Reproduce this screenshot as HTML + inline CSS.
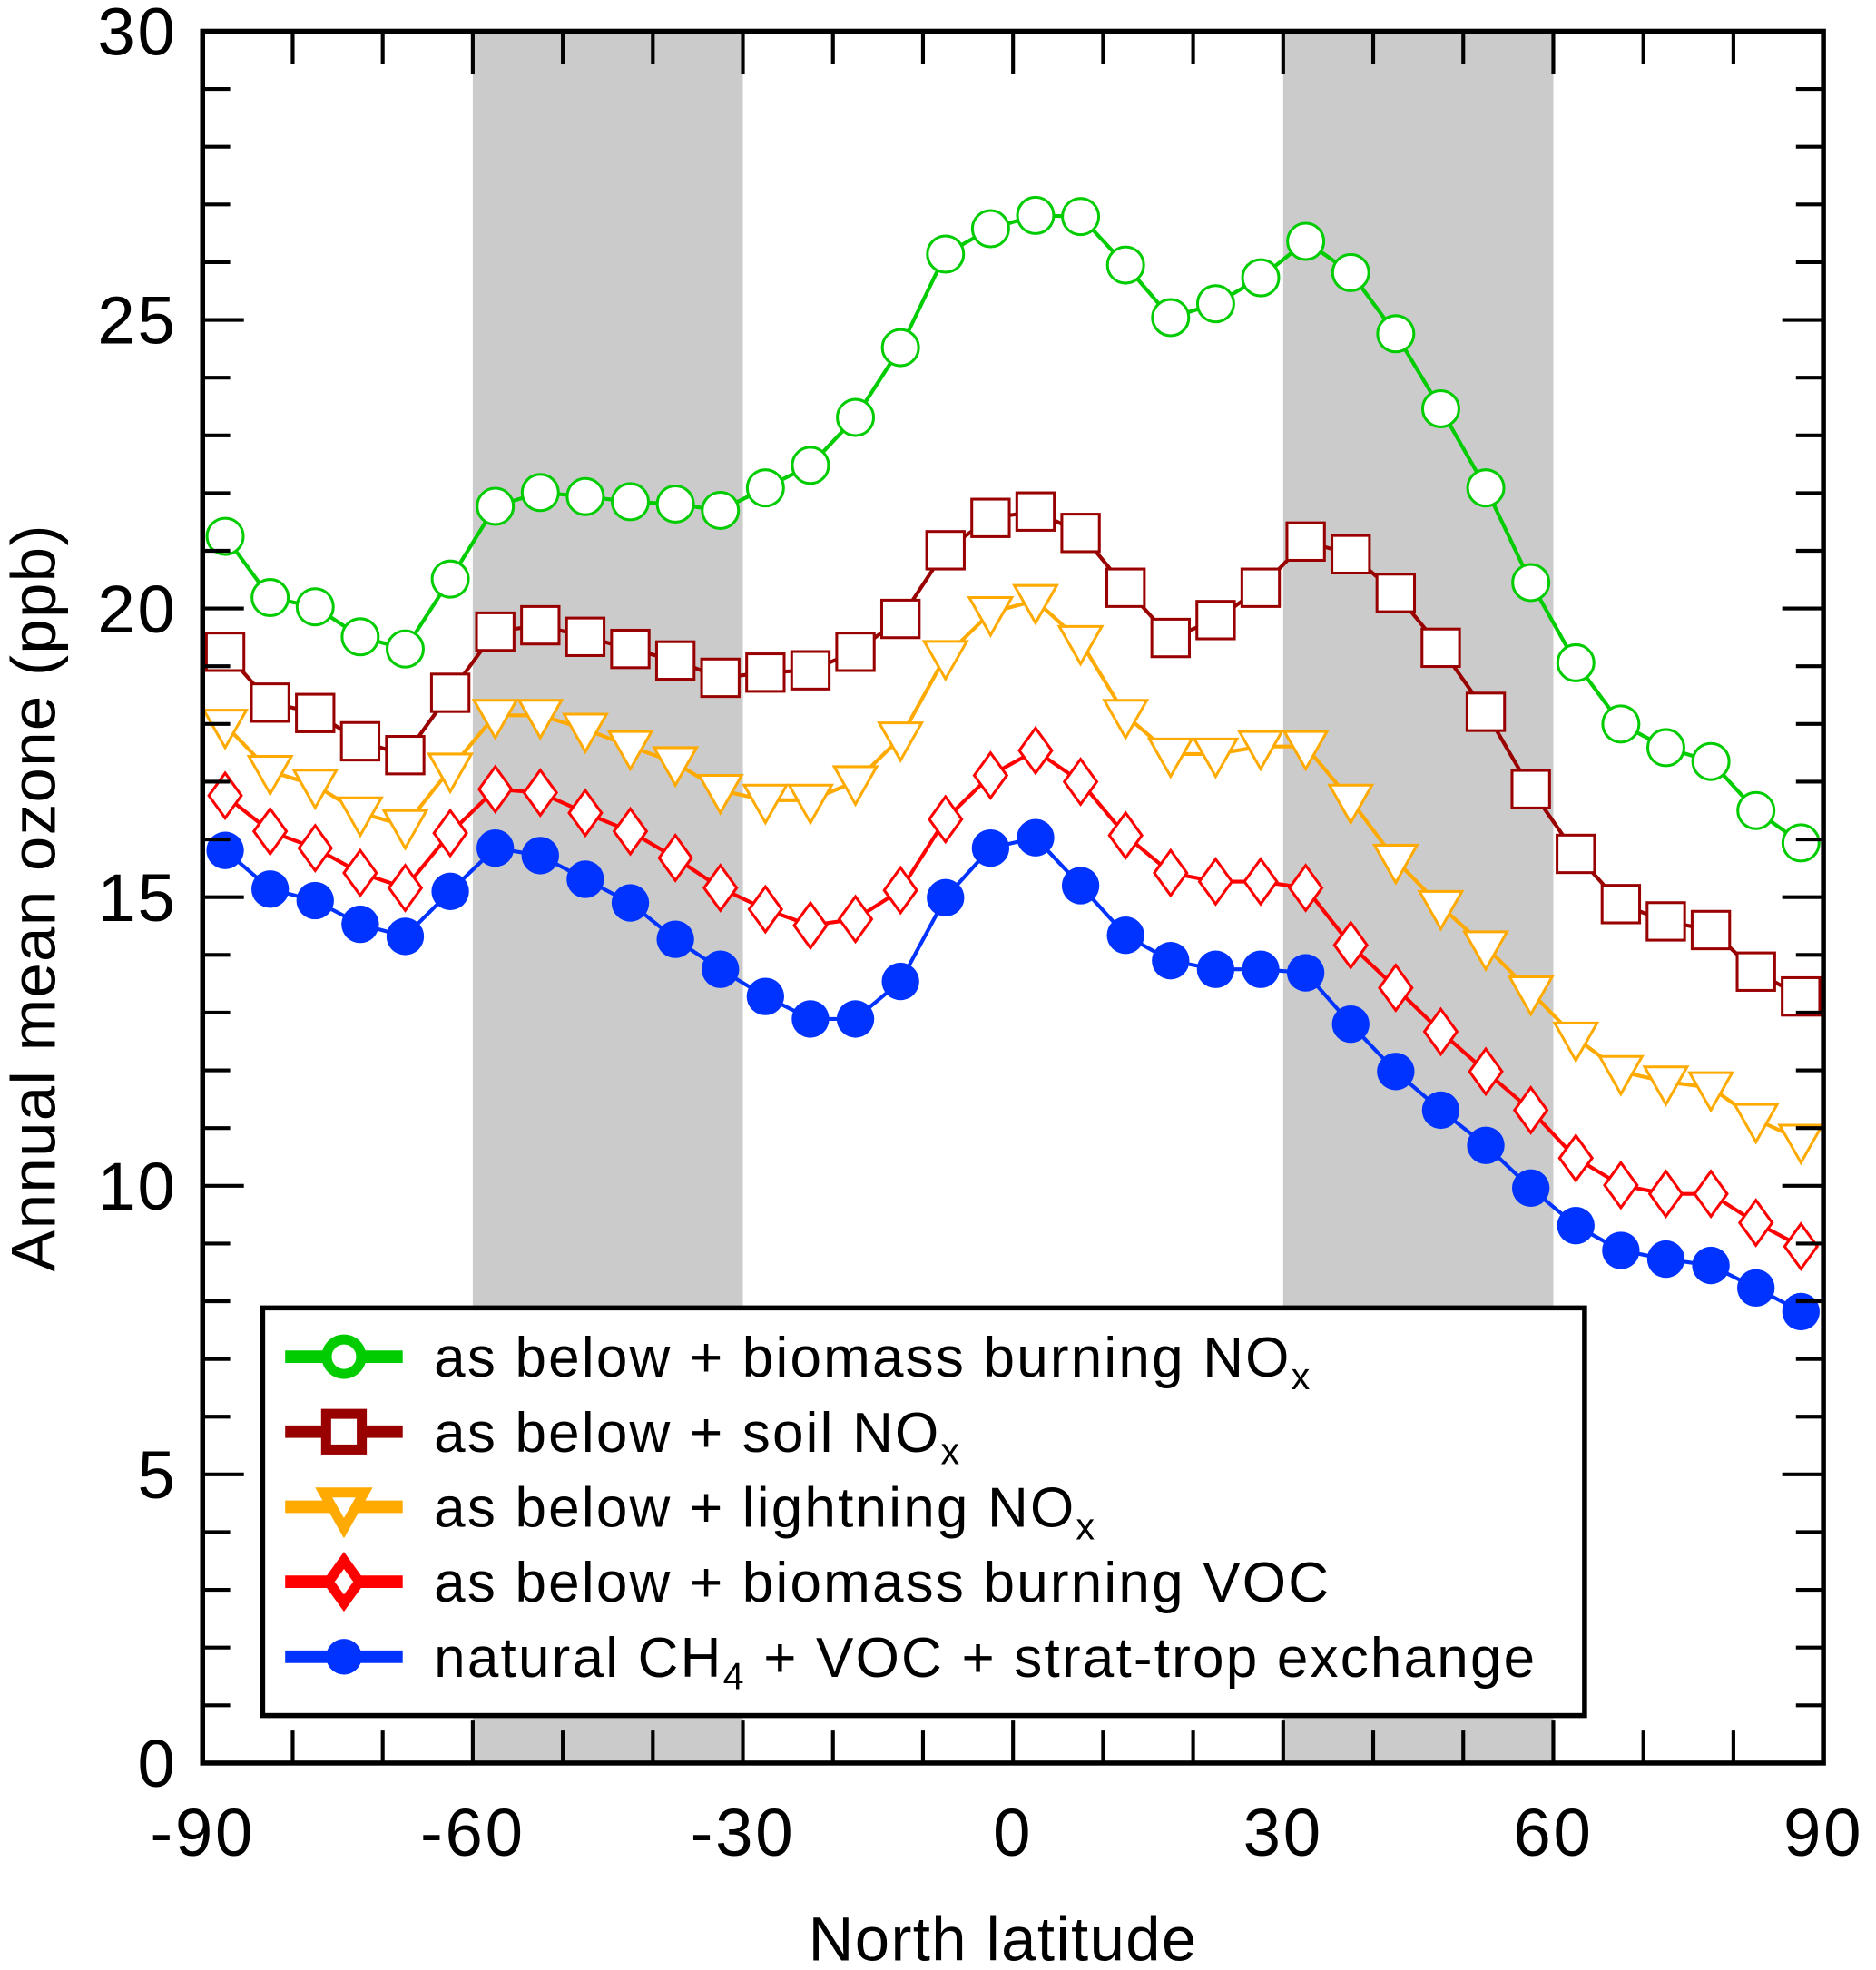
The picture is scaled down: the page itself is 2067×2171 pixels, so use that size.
<!DOCTYPE html>
<html><head><meta charset="utf-8"><style>
html,body{margin:0;padding:0;background:#fff}
svg{display:block}
text{font-family:"Liberation Sans",sans-serif;fill:#000}
</style></head><body>
<svg id="chart" width="2067" height="2171" viewBox="0 0 1500 1575.5" xmlns="http://www.w3.org/2000/svg">
<g id="bands"></g>
<g id="series"></g>
<g id="axes"></g>
<g id="legend">
<rect x="210" y="1046" width="1057" height="326" fill="#fff" stroke="#000" stroke-width="4"/>
</g>
<text x="802" y="1568" font-size="50" letter-spacing="1" text-anchor="middle">North latitude</text>
<text transform="translate(44,718) rotate(-90)" font-size="50" letter-spacing="1" text-anchor="middle">Annual mean ozone (ppb)</text>
</svg>
<script>
const lats = [-87.5,-82.5,-77.5,-72.5,-67.5,-62.5,-57.5,-52.5,-47.5,-42.5,-37.5,-32.5,-27.5,-22.5,-17.5,-12.5,-7.5,-2.5,2.5,7.5,12.5,17.5,22.5,27.5,32.5,37.5,42.5,47.5,52.5,57.5,62.5,67.5,72.5,77.5,82.5,87.5];
const greenVals = [21.25,20.19,20.03,19.51,19.30,20.51,21.77,22.01,21.94,21.85,21.81,21.70,22.09,22.48,23.31,24.52,26.14,26.58,26.81,26.79,25.95,25.04,25.28,25.73,26.36,25.82,24.76,23.46,22.09,20.45,19.06,18.0,17.59,17.35,16.50,15.94];
const brownVals = [19.25,18.37,18.19,17.70,17.46,18.54,19.60,19.71,19.51,19.30,19.10,18.80,18.89,18.93,19.25,19.82,21.01,21.57,21.68,21.31,20.36,19.49,19.80,20.36,21.16,20.94,20.27,19.32,18.21,16.87,15.75,14.88,14.58,14.43,13.71,13.28];
const orangeVals = [17.98,17.18,16.94,16.46,16.24,17.22,18.15,18.15,17.91,17.61,17.33,16.85,16.68,16.68,17.0,17.76,19.17,19.93,20.14,19.43,18.15,17.48,17.48,17.61,17.61,16.68,15.64,14.84,14.14,13.36,12.56,11.98,11.80,11.70,11.15,10.79];
const redVals = [16.76,16.14,15.85,15.42,15.16,16.11,16.87,16.81,16.46,16.14,15.68,15.16,14.79,14.51,14.62,15.12,16.35,17.11,17.54,17.0,16.07,15.42,15.27,15.27,15.16,14.17,13.43,12.67,11.98,11.31,10.48,10.01,9.86,9.86,9.36,8.95];
const blueVals = [15.81,15.14,14.94,14.53,14.32,15.10,15.85,15.72,15.31,14.90,14.27,13.75,13.28,12.89,12.89,13.54,14.99,15.85,16.03,15.20,14.34,13.90,13.75,13.75,13.69,12.80,11.98,11.31,10.70,9.96,9.31,8.88,8.73,8.62,8.23,7.82];
const xTicks = [-90,-60,-30,0,30,60,90];
const yTicks = [0,5,10,15,20,25,30];
const bandsData = [[-60,-30],[30,60]];
const legendLabels = ["as below + biomass burning NO","as below + soil NO","as below + lightning  NO","as below + biomass burning VOC","natural CH"];

const NS="http://www.w3.org/2000/svg";
const L=162,R=1458,T=25,B=1410;
const xs=v=>L+(v+90)/180*(R-L);
const ys=v=>B-v/30*(B-T);
function mk(tag,attrs,parent){const e=document.createElementNS(NS,tag);for(const k in attrs)e.setAttribute(k,attrs[k]);parent.appendChild(e);return e;}

const gb=document.getElementById('bands');
bandsData.forEach((b,i)=>{
  const r=mk('rect',{x:xs(b[0]),y:T,width:xs(b[1])-xs(b[0]),height:B-T,fill:'#cbcbcb'},gb);
  
  
});

function marker(type,cx,cy,color,fillInner,parent,s){
  s=s||1;let e;
  if(type==='circle') e=mk('circle',{cx:cx,cy:cy,r:14.5*s},parent);
  else if(type==='filled') e=mk('circle',{cx:cx,cy:cy,r:15*s},parent);
  else if(type==='square') e=mk('rect',{x:cx-15*s,y:cy-15*s,width:30*s,height:30*s},parent);
  else if(type==='tri') e=mk('polygon',{points:`${cx-17*s},${cy-12*s} ${cx+17*s},${cy-12*s} ${cx},${cy+18*s}`},parent);
  else e=mk('polygon',{points:`${cx},${cy-18*s} ${cx+13*s},${cy} ${cx},${cy+18*s} ${cx-13*s},${cy}`},parent);
  if(type==='filled'){e.setAttribute('fill',color);}
  else {e.setAttribute('fill','#fff');e.setAttribute('stroke',color);e.setAttribute('stroke-width',2.2);}
  return e;
}

const seriesDefs=[
  {vals:blueVals,color:'#0033ff',type:'filled',name:'natural'},
  {vals:redVals,color:'#ff0000',type:'diamond',name:'biomass-voc'},
  {vals:orangeVals,color:'#ffaa00',type:'tri',name:'lightning-nox'},
  {vals:brownVals,color:'#990000',type:'square',name:'soil-nox'},
  {vals:greenVals,color:'#00cc00',type:'circle',name:'biomass-nox'}
];
const gs=document.getElementById('series');
seriesDefs.forEach(sd=>{
  const g=mk('g',{},gs);
  
  
  const pl=mk('polyline',{points:lats.map((la,i)=>xs(la)+','+ys(sd.vals[i])).join(' '),fill:'none',stroke:sd.color,'stroke-width':3},g);
  
  
  lats.forEach((la,i)=>{
    const m=marker(sd.type,xs(la),ys(sd.vals[i]),sd.color,true,g);
    
    
  });
});

const ga=document.getElementById('axes');
mk('rect',{x:L,y:T,width:R-L,height:B-T,fill:'none',stroke:'#000','stroke-width':4},ga);
for(let v=-90;v<=90;v+=10){
  const x=xs(v),len=(v%30===0)?34:26;
  mk('line',{x1:x,y1:B,x2:x,y2:B-len,stroke:'#000','stroke-width':3},ga);
  mk('line',{x1:x,y1:T,x2:x,y2:T+len,stroke:'#000','stroke-width':3},ga);
}
for(let v=0;v<=30;v+=1){
  const y=ys(v),len=(v%5===0)?33:22;
  mk('line',{x1:L,y1:y,x2:L+len,y2:y,stroke:'#000','stroke-width':3},ga);
  mk('line',{x1:R,y1:y,x2:R-len,y2:y,stroke:'#000','stroke-width':3},ga);
}
xTicks.forEach(v=>{
  const t=mk('text',{x:xs(v),y:1484,'font-size':54,'text-anchor':'middle','letter-spacing':2},ga);
  t.textContent=String(v);
  
  
});
yTicks.forEach(v=>{
  const t=mk('text',{x:142,y:ys(v)+19,'font-size':54,'text-anchor':'end','letter-spacing':2},ga);
  t.textContent=String(v);
  
  
});

const gl=document.getElementById('legend');
const legSubs=[['x',''],['x',''],['x',''],['',''],['4',' + VOC + strat-trop exchange']];
const legOrder=[4,3,2,1,0];
legendLabels.forEach((lab,i)=>{
  const sd=seriesDefs[legOrder[i]];
  const cy=1085+i*60;
  const g=mk('g',{},gl);
  
  
  mk('line',{x1:228,y1:cy,x2:322,y2:cy,stroke:sd.color,'stroke-width':10},g);
  const m=marker(sd.type,275,cy,sd.color,true,g,0.95);
  if(sd.type!=='filled') m.setAttribute('stroke-width',8);
  const t=mk('text',{x:347,y:cy+16,'font-size':45,'letter-spacing':1.6},g);
  t.appendChild(document.createTextNode(lab));
  const sub=legSubs[i];
  if(sub[0]){const ts=mk('tspan',{'font-size':30,dy:10},t);ts.textContent=sub[0];}
  if(sub[1]){const ts=mk('tspan',{dy:-10},t);ts.textContent=sub[1];}
});
</script>
</body></html>
